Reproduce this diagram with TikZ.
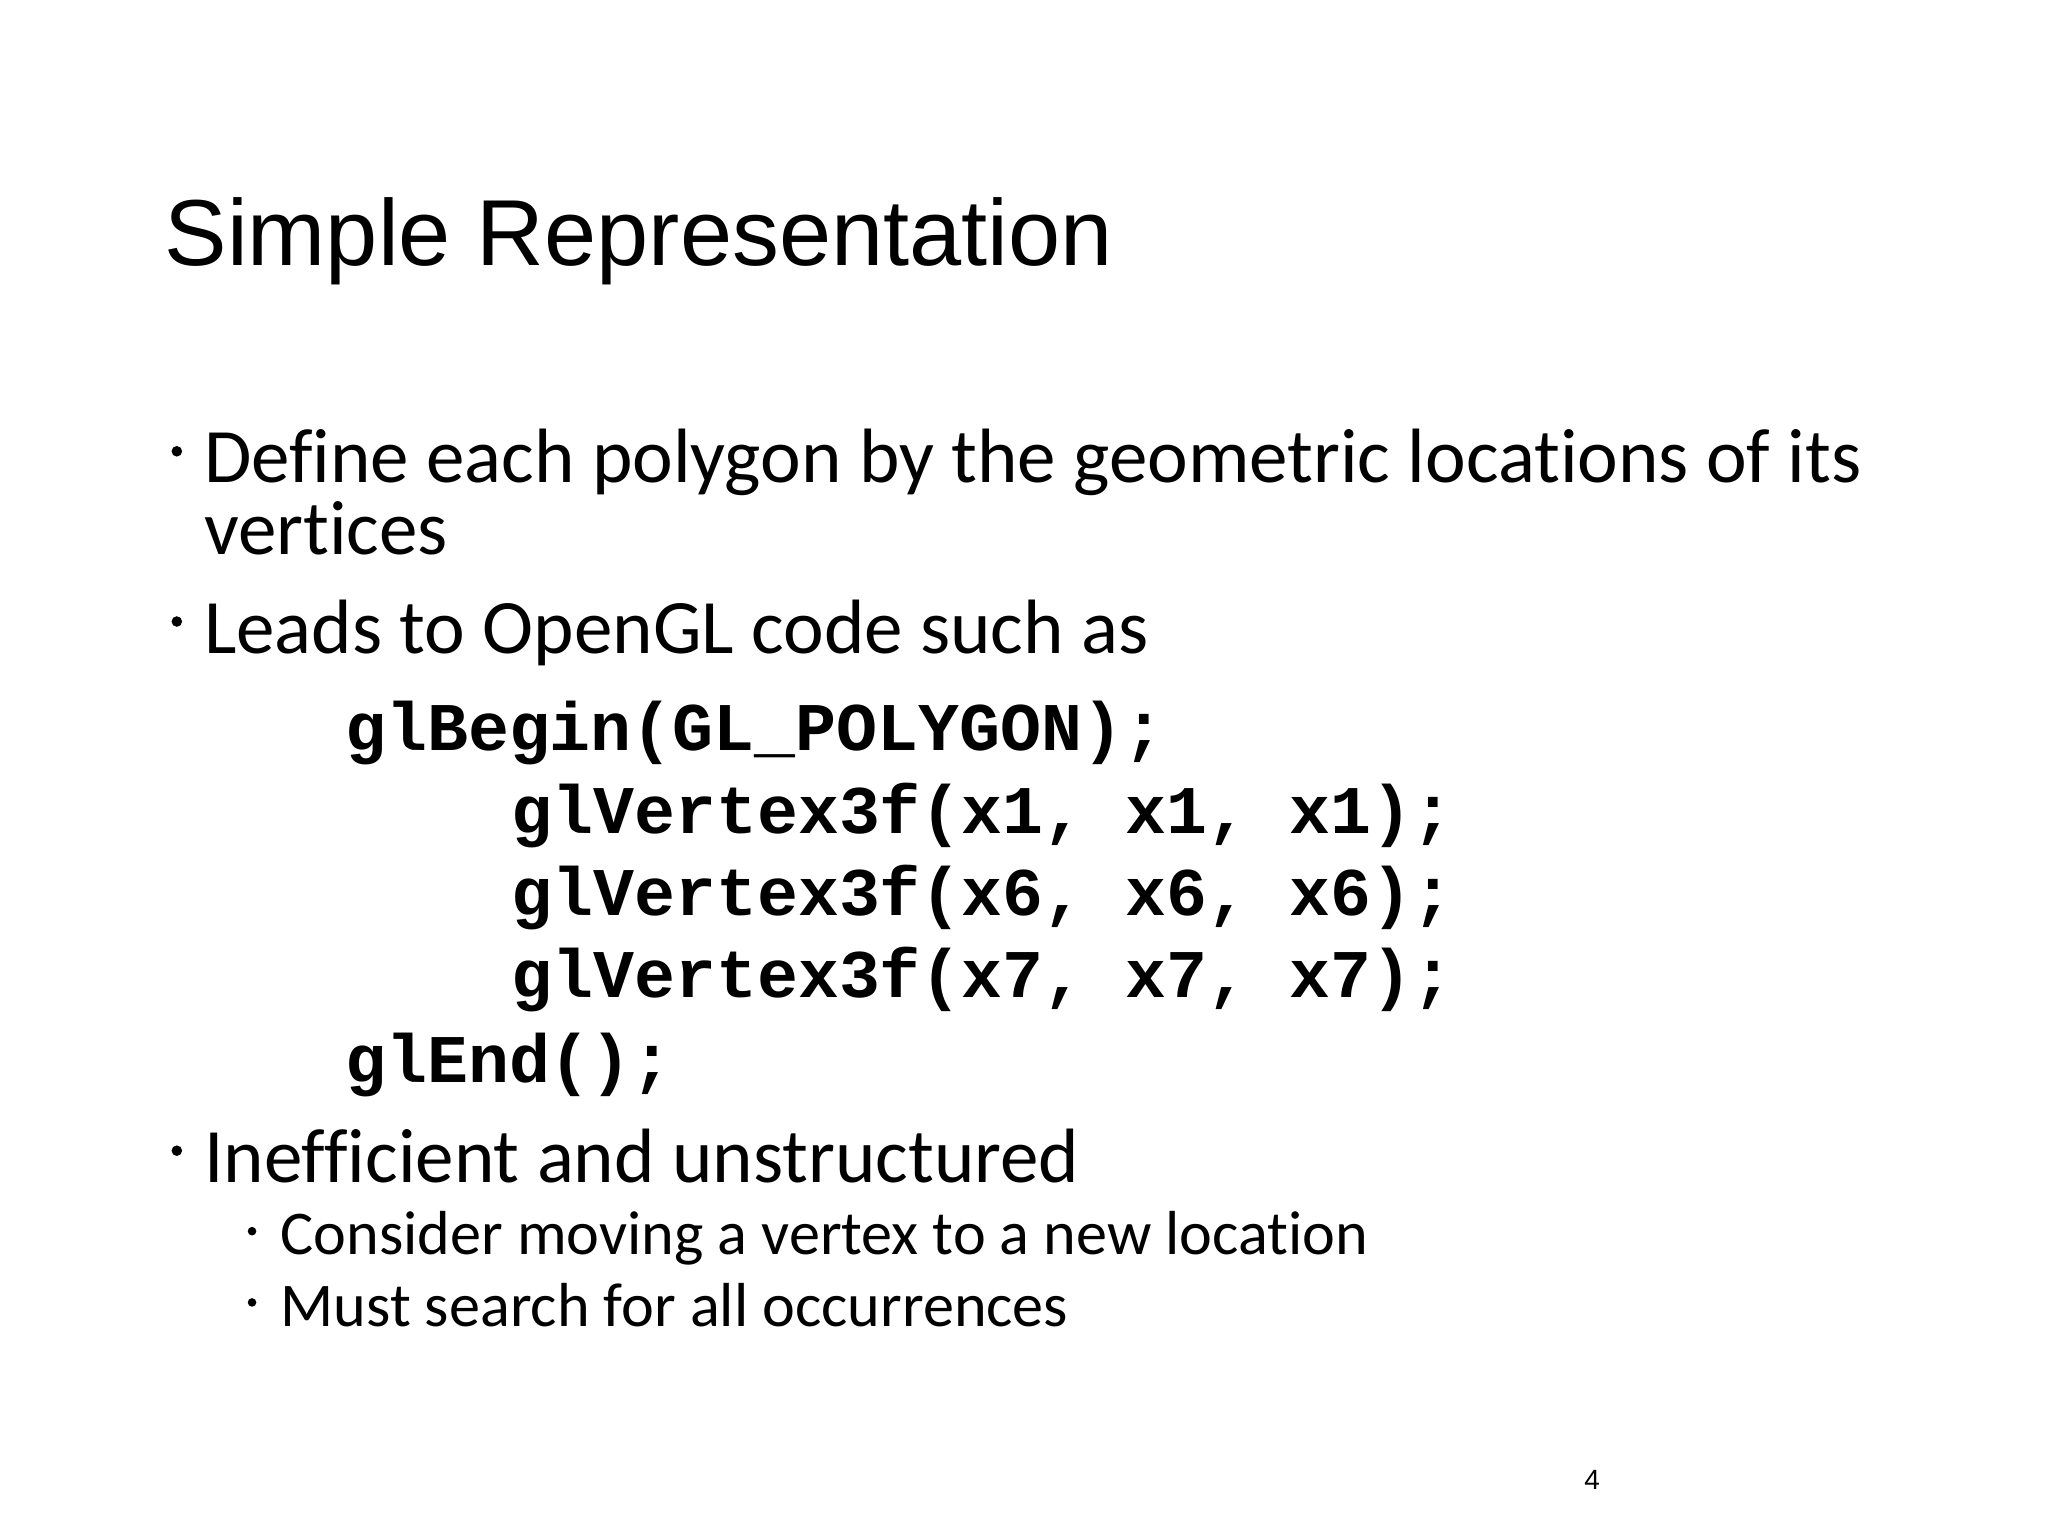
\documentclass[tikz,border=0pt]{standalone}
\usepackage{fontspec}
\setmainfont[Ligatures=NoCommon]{Carlito}
\newfontfamily\titlefont{Liberation Sans}
\newfontfamily\codefont{Liberation Mono}
\begin{document}
\begin{tikzpicture}[x=0.01cm,y=-0.01cm,
  title/.style={anchor=base west,inner sep=0,font=\titlefont\fontsize{20.2pt}{24pt}\selectfont},
  body/.style={anchor=base west,inner sep=0,font=\fontsize{16.6pt}{20pt}\selectfont},
  sub/.style={anchor=base west,inner sep=0,font=\fontsize{13.4pt}{15pt}\selectfont},
  code/.style={anchor=base west,inner sep=0,font=\codefont\bfseries\fontsize{14.7pt}{16pt}\selectfont},
  dot/.style={fill=black,circle,inner sep=0,minimum size=0.08cm},
  sdot/.style={fill=black,circle,inner sep=0,minimum size=0.065cm}]
\useasboundingbox (0,0) rectangle (1552,1164);
\node[title] (t) at (124,201) {Simple Representation};
\node[dot] (b1d) at (134,342) {};
\node[body] (b1) at (154,366) {Define each polygon by the geometric locations of its};
\node[body] (b1b) at (154,420) {vertices};
\node[dot] (b2d) at (134,471) {};
\node[body] (b2) at (154,495) {Leads to OpenGL code such as};
\node[code] (c1) at (261,569) {glBegin(GL\_POLYGON);};
\node[code] (c2) at (387,632) {glVertex3f(x1, x1, x1);};
\node[code] (c3) at (387,694) {glVertex3f(x6, x6, x6);};
\node[code] (c4) at (387,756) {glVertex3f(x7, x7, x7);};
\node[code] (c5) at (261,820) {glEnd();};
\node[dot] (b3d) at (134,872) {};
\node[body] (b3) at (154,896) {Inefficient and unstructured};
\node[sdot] (s1d) at (191,933) {};
\node[sub] (s1) at (212,951) {Consider moving a vertex to a new location};
\node[sdot] (s2d) at (191,987) {};
\node[sub] (s2) at (212,1005) {Must search for all occurrences};
\node[anchor=base west,inner sep=0,font=\titlefont\fontsize{6pt}{8pt}\selectfont] (pg) at (1200,1129) {4};
\end{tikzpicture}
\end{document}
